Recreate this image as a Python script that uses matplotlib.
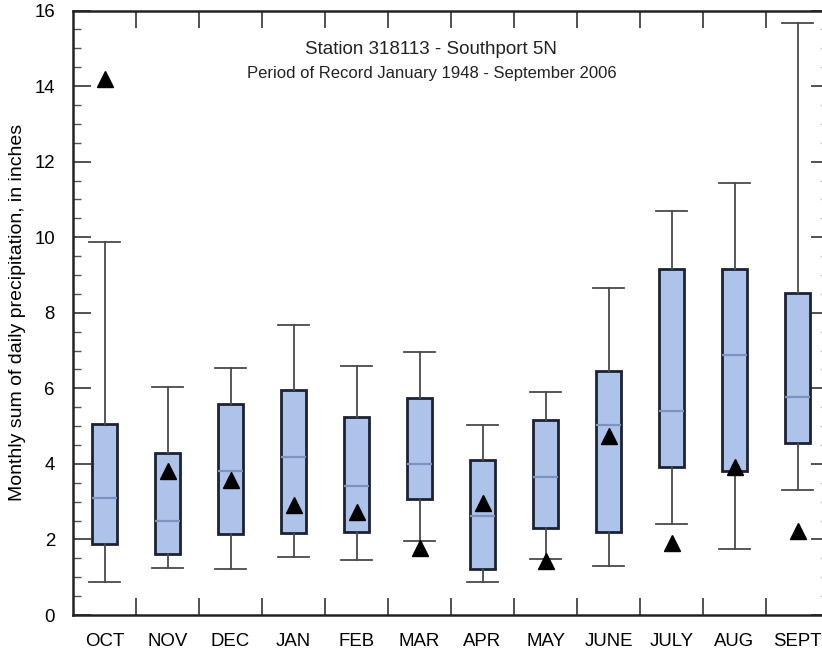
import numpy as np
import matplotlib.pyplot as plt

plt.rcParams['font.family'] = ['Liberation Sans', 'DejaVu Sans']

# 月份与箱线图统计值（从图中读取，单位英寸）
months = ['OCT', 'NOV', 'DEC', 'JAN', 'FEB', 'MAR', 'APR', 'MAY', 'JUNE', 'JULY', 'AUG', 'SEPT']
whisker_low = [0.87, 1.25, 1.21, 1.54, 1.45, 1.97, 0.87, 1.48, 1.31, 2.41, 1.75, 3.30]
q1 = [1.88, 1.61, 2.14, 2.17, 2.20, 3.06, 1.23, 2.29, 2.19, 3.93, 3.80, 4.55]
median = [3.09, 2.49, 3.82, 4.19, 3.41, 4.00, 2.62, 3.65, 5.02, 5.40, 6.89, 5.76]
q3 = [5.05, 4.28, 5.58, 5.95, 5.24, 5.75, 4.11, 5.16, 6.45, 9.16, 9.17, 8.52]
whisker_high = [9.87, 6.03, 6.54, 7.68, 6.59, 6.97, 5.04, 5.90, 8.66, 10.69, 11.44, 15.66]
# 三角形标记（2006年水位）
triangles = [14.2, 3.82, 3.58, 2.90, 2.72, 1.77, 2.96, 1.43, 4.73, 1.90, 3.91, 2.23]

stats = []
for i in range(len(months)):
    stats.append(dict(med=median[i], q1=q1[i], q3=q3[i],
                      whislo=whisker_low[i], whishi=whisker_high[i], fliers=[]))

fig = plt.figure(figsize=(8.22, 6.56), dpi=100)
# 坐标轴右侧超出图片边界（原图被裁切）
ax = fig.add_axes([73 / 822, 1 - 615 / 656, (829 - 73) / 822, (615 - 10.5) / 656])

pos = np.arange(len(months)) + 0.5
ax.bxp(stats, positions=pos, widths=0.4, patch_artist=True, showfliers=False,
       boxprops=dict(facecolor='#aec3ea', edgecolor='#1c2233', linewidth=2),
       medianprops=dict(color='#7d93bf', linewidth=1.6),
       whiskerprops=dict(color='#4a4a4a', linewidth=1.3),
       capprops=dict(color='#4a4a4a', linewidth=1.3),
       capwidths=0.49)

ax.plot(pos, triangles, '^', color='black', markersize=11, clip_on=False, zorder=5)

ax.set_xlim(0, 12)
ax.set_ylim(0, 16)

# x轴：标签在中间，刻度线在分界处
ax.set_xticks(pos)
ax.set_xticklabels(months, fontsize=13.4)
ax.tick_params(axis='x', which='major', length=0, pad=13)
ax.set_xticks(np.arange(1, 12), minor=True)
ax.tick_params(axis='x', which='minor', direction='in', length=12, width=1.2,
               top=True, bottom=True, color='#333333')

ax.set_yticks(np.arange(0, 17, 2))
ax.set_yticks(np.arange(0, 16.01, 0.5), minor=True)
ax.tick_params(axis='y', which='major', direction='in', length=13, width=1.2,
               left=True, right=True, labelsize=13.4, pad=13, color='#333333')
ax.tick_params(axis='y', which='minor', direction='in', length=6, width=1,
               left=True, right=True, color='#555555')

for sp in ax.spines.values():
    sp.set_linewidth(1.8)
    sp.set_color('#222222')

ax.set_ylabel('Monthly sum of daily precipitation, in inches', fontsize=14, labelpad=6)

ax.text(0.474, 0.935, 'Station 318113 - Southport 5N', transform=ax.transAxes,
        ha='center', va='center', fontsize=13.5, color='#222222')
ax.text(0.474, 0.896, 'Period of Record January 1948 - September 2006', transform=ax.transAxes,
        ha='center', va='center', fontsize=12, color='#222222')

fig.savefig('out.png', dpi=100)
